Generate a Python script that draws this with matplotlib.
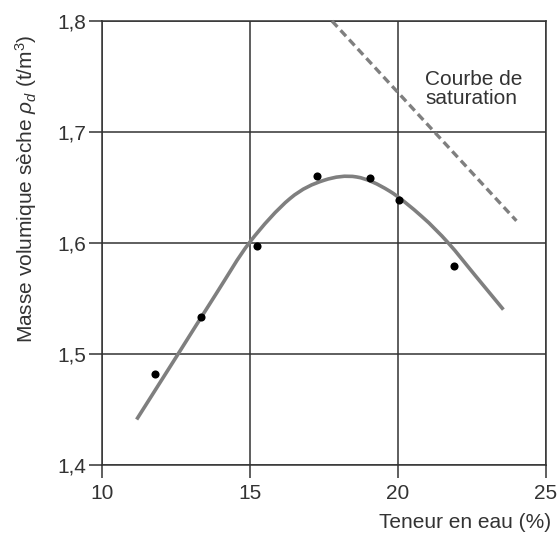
import matplotlib
matplotlib.use("Agg")
import matplotlib.pyplot as plt
from matplotlib.path import Path
from matplotlib.patches import PathPatch

plt.rcParams['font.family'] = ['Liberation Sans', 'DejaVu Sans']
plt.rcParams['mathtext.fontset'] = 'custom'
plt.rcParams['mathtext.rm'] = 'Liberation Sans'
plt.rcParams['mathtext.it'] = 'Liberation Sans:italic'

# Measured points
w_pts = [11.8, 13.34, 15.24, 17.25, 19.07, 20.03, 21.9]
rho_pts = [1.482, 1.533, 1.597, 1.660, 1.659, 1.639, 1.579]

# Compaction curve
w_curve = [11.17, 12.50, 13.85, 15.00, 16.35, 17.50, 18.60, 19.70, 20.80, 21.70, 22.60, 23.56]
rho_curve = [1.441, 1.497, 1.554, 1.601, 1.640, 1.6565, 1.6595, 1.647, 1.624, 1.600, 1.571, 1.540]

# Saturation curve
w_sat = [17.77, 24.0]
rho_sat = [1.80, 1.62]

xticks = [10, 15, 20, 25]
xtick_labels = ["10", "15", "20", "25"]
yticks = [1.4, 1.5, 1.6, 1.7, 1.8]
ytick_labels = ["1,4", "1,5", "1,6", "1,7", "1,8"]

txt = '#333333'
gridc = '#333333'
fs = 15


def smooth_path(xs, ys):
    """Catmull-Rom style cubic Bezier path through the given points."""
    pts = list(zip(xs, ys))
    n = len(pts)
    verts = [pts[0]]
    codes = [Path.MOVETO]
    for i in range(n - 1):
        p0 = pts[i - 1] if i > 0 else pts[i]
        p1 = pts[i]
        p2 = pts[i + 1]
        p3 = pts[i + 2] if i + 2 < n else pts[i + 1]
        c1 = (p1[0] + (p2[0] - p0[0]) / 6, p1[1] + (p2[1] - p0[1]) / 6)
        c2 = (p2[0] - (p3[0] - p1[0]) / 6, p2[1] - (p3[1] - p1[1]) / 6)
        verts += [c1, c2, p2]
        codes += [Path.CURVE4] * 3
    return Path(verts, codes)


fig = plt.figure(figsize=(5.58, 5.38), dpi=100)
ax = fig.add_axes([102/558, 1-465/538, 444/558, 444/538])
ax.set_xlim(10, 25)
ax.set_ylim(1.4, 1.8)

ax.set_xticks(xticks)
ax.set_xticklabels(xtick_labels)
ax.set_yticks(yticks)
ax.set_yticklabels(ytick_labels)
ax.grid(True, color=gridc, linewidth=1.1)
ax.set_axisbelow(True)
for s in ax.spines.values():
    s.set_color(gridc)
    s.set_linewidth(1.1)
ax.tick_params(axis='both', direction='out', length=9.5, width=1.1, color=gridc,
               labelsize=fs, labelcolor=txt)
ax.tick_params(axis='y', pad=2)
ax.tick_params(axis='x', pad=4)

curve = PathPatch(smooth_path(w_curve, rho_curve), facecolor='none',
                  edgecolor='#7f7f7f', linewidth=2.6, capstyle='butt',
                  joinstyle='round', zorder=3, transform=ax.transData)
ax.add_patch(curve)
ax.plot(w_sat, rho_sat, color='#7f7f7f', linewidth=2.4, linestyle=(0, (2.4, 1.4)),
        zorder=3, clip_on=False)
ax.scatter(w_pts, rho_pts, s=34, color='black', zorder=4, linewidths=0)

fig.text(425/558, 1-89/538, "Courbe de\nsaturation",
         fontsize=fs, color=txt, ha='left', va='center', linespacing=1.05)

fig.text(551/558, 1-523/538, "Teneur en eau (%)", fontsize=fs, color=txt,
         ha='right', va='center')
fig.text(26/558, 1-189/538, r"Masse volumique sèche $\rho_d$ (t/m$^3$)", fontsize=fs,
         color=txt, rotation=90, ha='center', va='center')

fig.savefig("out.png", dpi=100)
